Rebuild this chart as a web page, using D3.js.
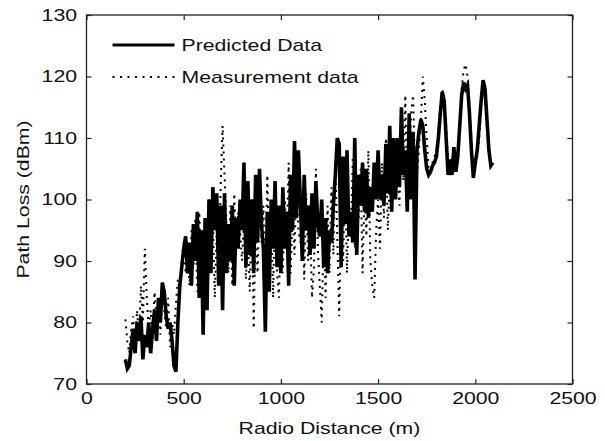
<!DOCTYPE html>
<html>
<head>
<meta charset="utf-8">
<script src="https://cdn.jsdelivr.net/npm/d3@7"></script>
<style>
  body { margin: 0; background: #fff; }
  text { font-family: "Liberation Sans", Arial, sans-serif; fill: #111; }
</style>
</head>
<body>
<div id="plot"></div>
<script>
// Chart values
var distance = [
  200, 210, 220, 230, 240, 250, 260, 270, 280, 290,
  300, 310, 320, 330, 340, 350, 360, 370, 380, 390,
  400, 410, 420, 430, 440, 450, 460, 470, 480, 490,
  500, 510, 520, 530, 540, 550, 560, 570, 580, 590,
  600, 610, 620, 630, 640, 650, 660, 670, 680, 690,
  700, 710, 720, 730, 740, 750, 760, 770, 780, 790,
  800, 810, 820, 830, 840, 850, 860, 870, 880, 890,
  900, 910, 920, 930, 940, 950, 960, 970, 980, 990,
  1000, 1010, 1020, 1030, 1040, 1050, 1060, 1070, 1080, 1090,
  1100, 1110, 1120, 1130, 1140, 1150, 1160, 1170, 1180, 1190,
  1200, 1210, 1220, 1230, 1240, 1250, 1260, 1270, 1280, 1290,
  1300, 1310, 1320, 1330, 1340, 1350, 1360, 1370, 1380, 1390,
  1400, 1410, 1420, 1430, 1440, 1450, 1460, 1470, 1480, 1490,
  1500, 1510, 1520, 1530, 1540, 1550, 1560, 1570, 1580, 1590,
  1600, 1610, 1620, 1630, 1640, 1650, 1660, 1670, 1680, 1690,
  1700, 1710, 1720, 1730, 1740, 1750, 1760, 1770, 1780, 1790,
  1800, 1810, 1820, 1830, 1840, 1850, 1860, 1870, 1880, 1890,
  1900, 1910, 1920, 1930, 1940, 1950, 1960, 1970, 1980, 1990,
  2000, 2010, 2020, 2030, 2040, 2050, 2060, 2070, 2080, 2090
];

var predicted = [
  74, 72.5, 73, 76, 79, 75, 80, 77, 81, 74,
  78, 76, 80, 75, 79, 82, 77, 84, 80, 86.5,
  85, 81, 79, 80, 77, 73, 72, 80, 86, 89,
  92, 94, 88, 93, 86, 96, 90, 98, 84, 95,
  78, 97, 82, 100, 88, 102, 95, 101, 86, 99,
  82, 101, 88, 96, 90, 99, 86, 97, 92, 100,
  95, 106, 89, 103, 91, 100, 88, 104, 93, 105,
  96, 92, 78.5, 98, 85, 100, 92, 103, 89, 99,
  88, 102, 92, 98, 86, 104, 95, 109.5, 97, 108,
  100, 90, 104, 95, 99, 91, 101, 92, 103, 96,
  94, 100, 89, 97, 88, 95, 93, 99, 104, 110,
  109, 89, 107, 96, 108, 94, 98, 93, 110, 91,
  104, 99, 106, 98, 105, 97, 102, 98, 106, 100,
  108, 100, 104, 99, 109, 101, 112, 98, 110, 100,
  110, 102, 115, 104, 108, 98, 114, 100, 111, 87,
  108, 111, 113, 112, 108, 105, 104, 104.5, 105.5, 106,
  107, 110, 114, 117.5, 116, 110, 104, 106.5, 104, 108.5,
  104.5, 107, 112, 117, 119, 118, 118.6, 114, 108, 103.5,
  106, 108, 112, 116, 119.4, 118, 113, 108, 105.5, 106
];

var measured = [
  80.5, 77, 75, 79, 81, 76, 82, 78, 86, 80,
  92, 84, 79, 82, 77, 85, 80, 83, 78, 85,
  82, 79, 84, 76, 80, 78, 83, 87, 85, 90,
  93, 88, 92, 86, 95, 89, 97, 85, 98, 88,
  82, 96, 86, 100, 90, 97, 84, 95, 88, 102,
  112, 104, 96, 88, 99, 86, 101, 92, 98, 95,
  90, 97, 87, 94, 85, 100, 79, 96, 88, 101,
  93, 99, 86, 104, 90, 97, 84, 102, 88, 84,
  98, 88, 100, 93, 106, 88, 98, 91, 104, 95,
  93, 99, 87, 101, 90, 96, 84, 89, 105, 92,
  86, 80, 95, 84, 99, 88, 102, 91, 106, 94,
  81, 98, 90, 104, 88, 100, 94, 107, 92, 102,
  97, 105, 88, 101, 94, 108, 90, 86, 84, 95,
  100, 92, 106, 97, 110, 95, 103, 98, 108, 101,
  105, 99, 112, 103, 117, 100, 108, 114, 117, 105,
  104, 108, 113, 120, 116, 110, 105, 104, 106, 107,
  108, 111, 115, 118, 116, 112, 106, 104, 107, 105,
  106, 108, 113, 118, 121, 122, 120, 115, 109, 104,
  105, 107, 110, 115, 118, 117, 112, 108, 106, 106
];

var xTicks = [0, 500, 1000, 1500, 2000, 2500];
var yTicks = [70, 80, 90, 100, 110, 120, 130];
var seriesNames = ["Predicted Data", "Measurement data"];

// Set up our chart size
var svgWidth = 605;
var svgHeight = 441;

var margin = { top: 15, right: 32.5, bottom: 57, left: 86.5 };

var width = svgWidth - margin.left - margin.right;
var height = svgHeight - margin.top - margin.bottom;

// the picture's lettering is wide, so text gets stretched along its run
var stretch = 1.25;
var fontSize = "17px";

var svg = d3.select("#plot")
  .append("svg")
  .attr("width", svgWidth)
  .attr("height", svgHeight);

var chart = svg.append("g")
  .attr("transform", `translate(${margin.left}, ${margin.top})`);

// Scales
var xScale = d3.scaleLinear().domain([0, 2500]).range([0, width]);
var yScale = d3.scaleLinear().domain([70, 130]).range([height, 0]);

var rows = distance.map(function(d, i) {
  return { d: d, p: predicted[i], m: measured[i] };
});

// Lines
var predLine = d3.line().x(r => xScale(r.d)).y(r => yScale(r.p));
var measLine = d3.line().x(r => xScale(r.d)).y(r => yScale(r.m));

chart.append("path")
  .datum(rows)
  .attr("fill", "none")
  .attr("stroke", "#000")
  .attr("stroke-width", 3.6)
  .attr("d", predLine);

chart.append("path")
  .datum(rows)
  .attr("fill", "none")
  .attr("stroke", "#000")
  .attr("stroke-width", 2)
  .attr("stroke-dasharray", "2,5")
  .attr("d", measLine);

// Axes, ticks inward on all four sides (box on)
function styleAxis(g) {
  g.select(".domain").remove();
  g.selectAll(".tick line").attr("stroke", "#222").attr("stroke-width", 1.2);
  g.selectAll(".tick text")
    .attr("fill", "#111")
    .style("font-size", fontSize)
    .style("font-family", "'Liberation Sans', Arial, sans-serif")
    .attr("transform", `scale(${stretch},1)`);
}

chart.append("g")
  .attr("transform", `translate(0, ${height})`)
  .call(d3.axisBottom(xScale).tickValues(xTicks).tickFormat(d3.format("d"))
    .tickSizeInner(-5).tickSizeOuter(0).tickPadding(8))
  .call(styleAxis);

chart.append("g")
  .call(d3.axisLeft(yScale).tickValues(yTicks).tickFormat(d3.format("d"))
    .tickSizeInner(-5).tickSizeOuter(0))
  .call(styleAxis)
  .selectAll(".tick text")
  .attr("x", -9.5 / stretch);

chart.append("g")
  .call(d3.axisTop(xScale).tickValues(xTicks).tickSizeInner(-5).tickSizeOuter(0).tickFormat(""))
  .call(styleAxis);

chart.append("g")
  .attr("transform", `translate(${width}, 0)`)
  .call(d3.axisRight(yScale).tickValues(yTicks).tickSizeInner(-5).tickSizeOuter(0).tickFormat(""))
  .call(styleAxis);

// Box
chart.append("rect")
  .attr("width", width)
  .attr("height", height)
  .attr("fill", "none")
  .attr("stroke", "#222")
  .attr("stroke-width", 1.3);

// Legend
var legend = chart.append("g").attr("transform", "translate(26, 30)");
legend.append("line")
  .attr("x1", 0).attr("x2", 62).attr("y1", 0).attr("y2", 0)
  .attr("stroke", "#000").attr("stroke-width", 3);
legend.append("line")
  .attr("x1", 0).attr("x2", 62).attr("y1", 32).attr("y2", 32)
  .attr("stroke", "#000").attr("stroke-width", 2).attr("stroke-dasharray", "2,5.5");
legend.selectAll("text.lab")
  .data(seriesNames)
  .enter()
  .append("text")
  .attr("class", "lab")
  .attr("transform", (d, i) => `translate(69, ${i * 32 + 6}) scale(${stretch},1)`)
  .style("font-size", fontSize)
  .text(d => d);

// Axes labels
chart.append("text")
  .attr("transform", `translate(${width / 2}, ${height + 50}) scale(${stretch},1)`)
  .attr("text-anchor", "middle")
  .style("font-size", fontSize)
  .text("Radio Distance (m)");

chart.append("text")
  .attr("transform", `translate(-58, ${height / 2}) rotate(-90) scale(${stretch},1)`)
  .attr("text-anchor", "middle")
  .style("font-size", fontSize)
  .text("Path Loss (dBm)");
</script>
</body>
</html>
